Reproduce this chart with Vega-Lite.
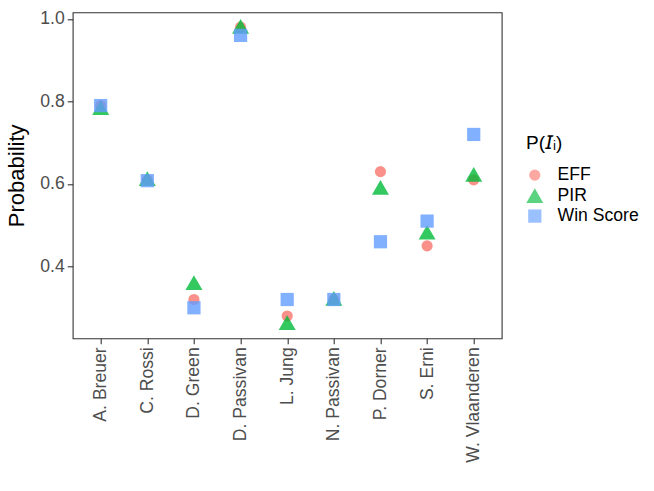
{
  "$schema": "https://vega.github.io/schema/vega-lite/v6.json",
  "width": 429,
  "height": 326,
  "autosize": {"type": "none"},
  "padding": {"left": 72.7, "top": 12.3, "right": 152.3, "bottom": 152.7},
  "background": "white",
  "config": {
    "font": "Liberation Sans",
    "view": {"stroke": "#333333", "strokeWidth": 1.1},
    "axis": {
      "grid": false,
      "domain": false,
      "tickColor": "#333333",
      "tickSize": 5.5,
      "tickWidth": 1.1,
      "labelFontSize": 17.6,
      "labelColor": "#4D4D4D",
      "labelFont": "Liberation Sans",
      "titleFont": "Liberation Sans",
      "titleFontSize": 22,
      "titleFontWeight": "normal",
      "titleColor": "black"
    }
  },
  "data": {
    "values": [
      {"player": "A. Breuer", "method": "EFF", "p": 0.79},
      {"player": "A. Breuer", "method": "PIR", "p": 0.785},
      {"player": "A. Breuer", "method": "Win Score", "p": 0.79},
      {"player": "C. Rossi", "method": "EFF", "p": 0.61},
      {"player": "C. Rossi", "method": "PIR", "p": 0.613},
      {"player": "C. Rossi", "method": "Win Score", "p": 0.608},
      {"player": "D. Green", "method": "EFF", "p": 0.32},
      {"player": "D. Green", "method": "PIR", "p": 0.361},
      {"player": "D. Green", "method": "Win Score", "p": 0.30},
      {"player": "D. Passivan", "method": "EFF", "p": 0.98},
      {"player": "D. Passivan", "method": "PIR", "p": 0.982},
      {"player": "D. Passivan", "method": "Win Score", "p": 0.96},
      {"player": "L. Jung", "method": "EFF", "p": 0.28},
      {"player": "L. Jung", "method": "PIR", "p": 0.264},
      {"player": "L. Jung", "method": "Win Score", "p": 0.32},
      {"player": "N. Passivan", "method": "EFF", "p": 0.32},
      {"player": "N. Passivan", "method": "PIR", "p": 0.323},
      {"player": "N. Passivan", "method": "Win Score", "p": 0.32},
      {"player": "P. Dorner", "method": "EFF", "p": 0.63},
      {"player": "P. Dorner", "method": "PIR", "p": 0.592},
      {"player": "P. Dorner", "method": "Win Score", "p": 0.46},
      {"player": "S. Erni", "method": "EFF", "p": 0.45},
      {"player": "S. Erni", "method": "PIR", "p": 0.483},
      {"player": "S. Erni", "method": "Win Score", "p": 0.51},
      {"player": "W. Vlaanderen", "method": "EFF", "p": 0.61},
      {"player": "W. Vlaanderen", "method": "PIR", "p": 0.623},
      {"player": "W. Vlaanderen", "method": "Win Score", "p": 0.72}
    ]
  },
  "mark": {"type": "point", "filled": true, "opacity": 0.8, "strokeWidth": 0},
  "encoding": {
    "x": {
      "field": "player",
      "type": "nominal",
      "scale": {"type": "point", "padding": 0.6},
      "axis": {"title": null, "labelAngle": 270, "labelPadding": 3}
    },
    "y": {
      "field": "p",
      "type": "quantitative",
      "scale": {"domain": [0.226, 1.016], "nice": false, "zero": false},
      "axis": {"title": "Probability", "values": [0.4, 0.6, 0.8, 1.0], "format": ".1f", "labelPadding": 3, "titlePadding": 11}
    },
    "color": {
      "field": "method",
      "type": "nominal",
      "scale": {"domain": ["EFF", "PIR", "Win Score"], "range": ["#F8766D", "#00BA38", "#619CFF"]},
      "legend": {
        "title": "P(𝘐ᵢ)",
        "orient": "none",
        "legendX": 453.3,
        "legendY": 122,
        "padding": 0,
        "titleFont": "Liberation Sans",
        "titleFontSize": 19,
        "titleFontWeight": "normal",
        "titleColor": "black",
        "titleBaseline": "top",
        "titlePadding": 13,
        "labelFont": "Liberation Sans",
        "labelFontSize": 17.6,
        "labelColor": "black",
        "labelOffset": 14,
        "rowPadding": 1.5,
        "symbolOpacity": 0.8,
        "symbolStrokeWidth": 0
      }
    },
    "shape": {
      "field": "method",
      "type": "nominal",
      "scale": {"domain": ["EFF", "PIR", "Win Score"], "range": ["circle", "triangle-up", "square"]},
      "legend": {"title": "P(𝘐ᵢ)"}
    },
    "size": {
      "field": "method",
      "type": "nominal",
      "scale": {"type": "ordinal", "domain": ["EFF", "PIR", "Win Score"], "range": [125, 289, 175]},
      "legend": {"title": "P(𝘐ᵢ)"}
    }
  }
}
